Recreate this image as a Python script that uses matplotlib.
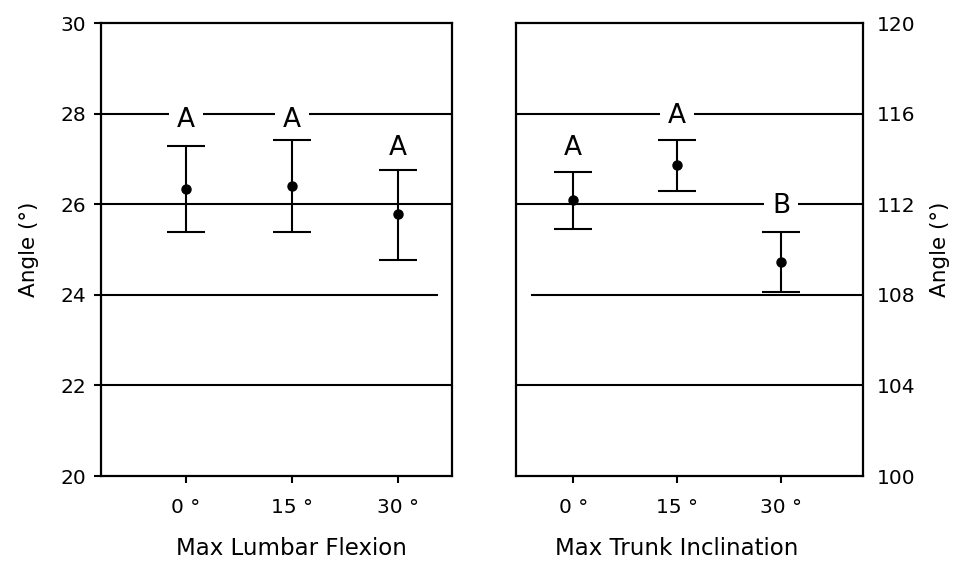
import matplotlib
matplotlib.use("Agg")
import matplotlib.pyplot as plt
from matplotlib.transforms import blended_transform_factory

# Max lumbar flexion (left panel, degrees)
conditions = ["0 °", "15 °", "30 °"]
lumbar_mean = [26.34, 26.40, 25.78]
lumbar_low = [25.39, 25.39, 24.77]
lumbar_high = [27.28, 27.42, 26.75]
lumbar_letters = ["A", "A", "A"]
lumbar_letter_y = [27.86, 27.86, 27.24]

# Max trunk inclination (right panel, degrees)
trunk_mean = [112.19, 113.73, 109.45]
trunk_low = [110.92, 112.60, 108.14]
trunk_high = [113.44, 114.83, 110.79]
trunk_letters = ["A", "A", "B"]
trunk_letter_y = [114.48, 115.89, 111.92]

lumbar_ticks = [20, 22, 24, 26, 28, 30]
trunk_ticks = [100, 104, 108, 112, 116, 120]

plt.rcParams["font.family"] = "DejaVu Sans"
plt.rcParams["font.size"] = 14.5

fig = plt.figure(figsize=(9.55, 5.62), dpi=100)
ax1 = fig.add_axes([0.1058, 0.1530, 0.3675, 0.8060])
ax2 = fig.add_axes([0.5403, 0.1530, 0.3634, 0.8060])

x = [0, 1, 2]


def panel(ax, mean, low, high, letters, letter_y, grid, xlim, label):
    yerr = [[m - l for m, l in zip(mean, low)], [h - m for m, h in zip(mean, high)]]
    ax.errorbar(x, mean, yerr=yerr, fmt="o", color="black", ms=6.5,
                elinewidth=1.5, capsize=13.5, capthick=1.5, zorder=3)
    for xi, ly, s in zip(x, letter_y, letters):
        ax.text(xi, ly, s, ha="center", va="center", fontsize=19, zorder=2,
                bbox=dict(boxstyle="square,pad=0.3", fc="white", ec="none"))
    for y0, x0, x1 in grid:
        ax.hlines(y0, x0, x1, color="black", lw=1.5, zorder=1)
    ax.set_xlim(*xlim)
    ax.set_xticks(x)
    ax.set_xticklabels(conditions)
    for sp in ax.spines.values():
        sp.set_linewidth(1.6)
    ax.set_xlabel(label, fontsize=16.5)
    trans = blended_transform_factory(ax.transData, ax.transAxes)
    ax.xaxis.set_label_coords(1, -0.135, transform=trans)
    ax.tick_params(axis="x", length=5, width=1.5, pad=11)


panel(ax1, lumbar_mean, lumbar_low, lumbar_high, lumbar_letters, lumbar_letter_y,
      [(22, -0.8, 2.51), (24, -0.8, 2.38), (26, -0.8, 2.51), (28, -0.8, 2.51)],
      (-0.8, 2.51), "Max Lumbar Flexion")
ax1.set_ylim(20, 30)
ax1.set_yticks(lumbar_ticks)
ax1.tick_params(axis="y", length=5, width=1.5, pad=6)
ax1.set_ylabel("Angle (°)", fontsize=15.5)
ax1.yaxis.set_label_coords(-0.177, 0.5)

panel(ax2, trunk_mean, trunk_low, trunk_high, trunk_letters, trunk_letter_y,
      [(104, -0.55, 2.79), (108, -0.41, 2.79), (112, -0.55, 2.79), (116, -0.55, 2.79)],
      (-0.55, 2.79), "Max Trunk Inclination")
ax2.set_ylim(100, 120)
ax2.set_yticks(trunk_ticks)
ax2.yaxis.tick_right()
ax2.yaxis.set_label_position("right")
ax2.tick_params(axis="y", length=0, pad=10)
ax2.set_ylabel("Angle (°)", fontsize=15.5)
ax2.yaxis.set_label_coords(1.193, 0.5)

fig.savefig("out.png", dpi=100)
